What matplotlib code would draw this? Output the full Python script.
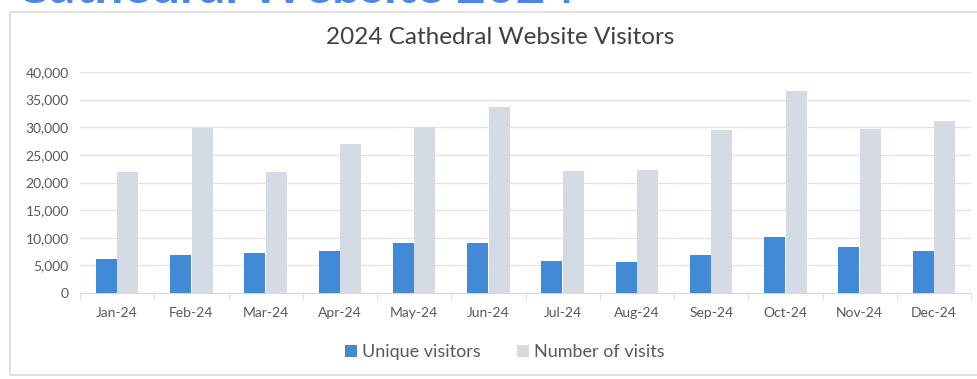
import numpy as np
import matplotlib
matplotlib.use("Agg")
import matplotlib.pyplot as plt
from matplotlib.patches import Rectangle
from matplotlib.ticker import FuncFormatter, MultipleLocator

months = ["Jan-24", "Feb-24", "Mar-24", "Apr-24", "May-24", "Jun-24",
          "Jul-24", "Aug-24", "Sep-24", "Oct-24", "Nov-24", "Dec-24"]
unique_visitors = [6200, 6900, 7250, 7600, 9050, 9100, 5800, 5700, 6900, 10200, 8300, 7550]
number_of_visits = [21900, 29900, 21900, 27000, 30100, 33700, 22100, 22300, 29500, 36500, 29700, 31200]

plt.rcParams['font.family'] = ['Lato', 'DejaVu Sans']

fig = plt.figure(figsize=(9.77, 3.79), dpi=100)
fig.patch.set_facecolor("white")

# card border behind the chart
fig.patches.append(Rectangle((10 / 977, 4 / 379), 1.2, (379 - 16) / 379,
                             transform=fig.transFigure, fill=False,
                             edgecolor="#d9d9d9", linewidth=1.2))

# page heading above the card, clipped by the top edge as in the screenshot
fig.text(15 / 977, 1 - 3 / 379, "Cathedral Website 2024", color="#4a86ee",
         fontsize=37, fontweight="bold", ha="left", va="baseline")

ax = fig.add_axes([80 / 977, (379 - 293) / 379, (971 - 80) / 977, (293 - 72) / 379])

x = np.arange(len(months))
w = 0.28
ax.bar(x - w / 2 - 0.005, unique_visitors, w, color="#4289d6", label="Unique visitors", zorder=3)
ax.bar(x + w / 2 + 0.005, number_of_visits, w, color="#d5dbe5", label="Number of visits", zorder=3)

ax.set_xlim(-0.5, len(months) - 0.5)
ax.set_ylim(0, 40000)
ax.yaxis.set_major_locator(MultipleLocator(5000))
ax.yaxis.set_major_formatter(FuncFormatter(lambda v, p: f"{int(v):,}"))
ax.grid(axis="y", color="#e3e3e3", linewidth=0.9, zorder=0)

ax.set_xticks(x)
ax.set_xticklabels(months)
ax.set_xticks(np.arange(-0.5, len(months), 1), minor=True)
ax.tick_params(axis="x", which="major", length=0, pad=10, labelsize=10, labelcolor="#595959")
ax.tick_params(axis="x", which="minor", length=5, color="#d9d9d9")
ax.tick_params(axis="y", length=0, pad=8, labelsize=10, labelcolor="#595959")

for side in ["top", "right", "left"]:
    ax.spines[side].set_visible(False)
ax.spines["bottom"].set_color("#d9d9d9")

fig.text(500 / 977, 1 - 37 / 379, "2024 Cathedral Website Visitors", color="#404040",
         fontsize=17.5, ha="center", va="center")

fig.legend(loc="center", bbox_to_anchor=(505 / 977, 1 - 352 / 379), ncol=2, frameon=False,
           fontsize=13, handlelength=0.65, handleheight=0.65, handletextpad=0.3,
           columnspacing=2.0, labelcolor="#595959")

fig.savefig("out.png", dpi=100, facecolor="white")
